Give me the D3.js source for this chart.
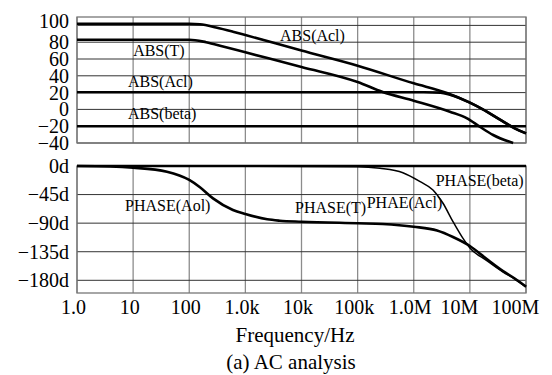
<!DOCTYPE html>
<html>
<head>
<meta charset="utf-8">
<script src="https://cdn.jsdelivr.net/npm/d3@7"></script>
<style>
  body { margin: 0; background: #fff; }
  svg { display: block; font-family: "Liberation Serif", "Times New Roman", serif; }
  .grid-h line { stroke: #333; stroke-width: 1; }
  .grid-v line { stroke: #8c8c8c; stroke-width: 1.3; }
  .curve { fill: none; stroke: #000; stroke-width: 2.6; stroke-linejoin: round; }
  .curve.thin { stroke-width: 1.5; }
  .axis text { font-family: "Liberation Serif", "Times New Roman", serif; font-size: 20px; fill: #000; }
  .lbl { font-size: 16px; fill: #000; }
</style>
</head>
<body>
<svg width="552" height="375"></svg>
<script>
// frequency ticks (Hz) and their labels
var freqTicks = [1, 10, 100, 1e3, 1e4, 1e5, 1e6, 1e7, 1e8];
var freqLabels = ["1.0", "10", "100", "1.0k", "10k", "100k", "1.0M", "10M", "100M"];

// magnitude ticks (dB)
var magTicks = [100, 80, 60, 40, 20, 0, -20, -40];
var magLabels = ["100", "80", "60", "40", "20", "0", "\u221220", "\u221240"];

// phase ticks (deg)
var phaseTicks = [0, -45, -90, -135, -180];
var phaseLabels = ["0d", "\u221245d", "\u221290d", "\u2212135d", "\u2212180d"];

// magnitude series: [freq, dB]
var absAol = [[1, 102], [100, 102], [155, 101.3], [300, 97.5], [600, 92.5], [1e3, 88.5],
  [1e4, 70], [1e5, 52], [1e6, 31], [3.9e6, 19.5], [1e7, 8], [1.7e7, 0],
  [3.5e7, -12.6], [6.3e7, -22.5], [1e8, -28.5]];
var absT = [[1, 83], [100, 83], [200, 80], [400, 75], [1e3, 68], [1e4, 50.5],
  [1e5, 32.6], [2.8e5, 20.7], [1e6, 10.4], [4.4e6, -2.7], [8.9e6, -10.6],
  [1.5e7, -20.6], [2.6e7, -30.5], [5.9e7, -40]];
var absAcl = [[1, 20.5], [1.5e6, 20.5], [3e6, 20], [4.4e6, 17.5], [1e7, 8],
  [1.7e7, 0], [3.5e7, -12.6], [6.3e7, -22.5], [1e8, -28.5]];
var absBeta = [[1, -20], [1e8, -20]];

// phase series: [freq, deg]
var phaseAol = [[1, 0], [3.9, -0.8], [10, -2.7], [40, -9], [100, -22], [155, -33.5],
  [265, -51], [600, -69.3], [1e3, -75.6], [2450, -84], [4100, -86.1], [1e4, -87.7],
  [1e5, -90.2], [2.8e5, -91.3], [1e6, -95.6], [2.6e6, -101.6], [5e6, -111.8],
  [1e7, -126], [2e7, -146.5], [3.9e7, -165.4], [6.3e7, -177.2], [1e8, -190]];
var phaseAcl = [[1, 0], [1e5, -1], [2.5e5, -3.6], [6.4e5, -10.6], [1.3e6, -24.7],
  [2.2e6, -37.8], [3.3e6, -58.3], [5e6, -87.7], [7.2e6, -111.3], [1e7, -129],
  [2e7, -149], [3.9e7, -167], [6.3e7, -178], [1e8, -190.5]];
var phaseBeta = [[1, 0], [1e8, 0]];

// curve labels: [text, freq, value] (left/baseline anchor)
var magNotes = [["ABS(Acl)", 4140, 82], ["ABS(T)", 10, 63], ["ABS(Acl)", 8.1, 26.1], ["ABS(beta)", 8.1, -11.4]];
var phaseNotes = [["PHASE(Aol)", 7.2, -70.9], ["PHASE(T)", 7660, -74.8], ["PHAE(Acl)", 1.45e5, -66.9], ["PHASE(beta)", 2.46e6, -31.5]];

var svg = d3.select("svg");

var x = d3.scaleLog().domain([1, 1e8]).range([77, 526]);
var yTop = d3.scaleLinear().domain([-40, 110]).range([143, 17]);
var yBot = d3.scaleLinear().domain([-200, 0]).range([293, 166]);

function panel(y, ticks, labels, series, notes) {
  var g = svg.append("g");
  var x0 = x.range()[0], x1 = x.range()[1];
  var y0 = y.range()[0], y1 = y.range()[1];

  // vertical grid
  g.append("g").attr("class", "grid-v")
    .selectAll("line").data(freqTicks).enter().append("line")
      .attr("x1", function(d) { return x(d); })
      .attr("x2", function(d) { return x(d); })
      .attr("y1", y0).attr("y2", y1);

  // horizontal grid
  g.append("g").attr("class", "grid-h")
    .selectAll("line").data(ticks).enter().append("line")
      .attr("x1", x0).attr("x2", x1)
      .attr("y1", function(d) { return y(d); })
      .attr("y2", function(d) { return y(d); });

  // frame
  g.append("rect")
    .attr("x", x0).attr("y", y1)
    .attr("width", x1 - x0).attr("height", y0 - y1)
    .attr("fill", "none").attr("stroke", "#777").attr("stroke-width", 1.3);

  // y axis labels
  var ax = g.append("g").attr("class", "axis")
    .attr("transform", "translate(" + x0 + ",0)")
    .call(d3.axisLeft(y).tickValues(ticks).tickSize(0).tickPadding(8)
      .tickFormat(function(d, i) { return labels[i]; }));
  ax.select(".domain").remove();

  var line = d3.line()
    .x(function(d) { return x(d[0]); })
    .y(function(d) { return y(d[1]); })
    .curve(d3.curveMonotoneX);

  series.forEach(function(s) {
    g.append("path").datum(s.data)
      .attr("class", "curve" + (s.thin ? " thin" : ""))
      .attr("d", line);
  });

  g.selectAll(".lbl").data(notes).enter().append("text")
    .attr("class", "lbl")
    .attr("x", function(d) { return x(d[1]); })
    .attr("y", function(d) { return y(d[2]); })
    .text(function(d) { return d[0]; });

  return ax;
}

var magAxis = panel(yTop, magTicks, magLabels, [
  { data: absBeta }, { data: absAcl }, { data: absT }, { data: absAol }
], magNotes);
// top label sits a little above its grid line in the original
magAxis.selectAll(".tick").filter(function(d) { return d === 100; })
  .select("text").attr("y", -4);

panel(yBot, phaseTicks, phaseLabels, [
  { data: phaseBeta }, { data: phaseAol }, { data: phaseAcl, thin: true }
], phaseNotes);

// x axis
var xa = svg.append("g").attr("class", "axis")
  .attr("transform", "translate(0," + yBot.range()[0] + ")")
  .call(d3.axisBottom(x).tickValues(freqTicks).tickSize(0).tickPadding(7)
    .tickFormat(function(d, i) { return freqLabels[i]; }));
xa.select(".domain").remove();
xa.selectAll("text")
  .attr("dx", function(d) { return d >= 1e7 ? -11 : -4; });

svg.append("text")
  .attr("x", 295).attr("y", 342)
  .attr("text-anchor", "middle")
  .style("font-size", "21px")
  .text("Frequency/Hz");

svg.append("text")
  .attr("x", 291).attr("y", 369)
  .attr("text-anchor", "middle")
  .style("font-size", "21px")
  .text("(a) AC analysis");
</script>
</body>
</html>
